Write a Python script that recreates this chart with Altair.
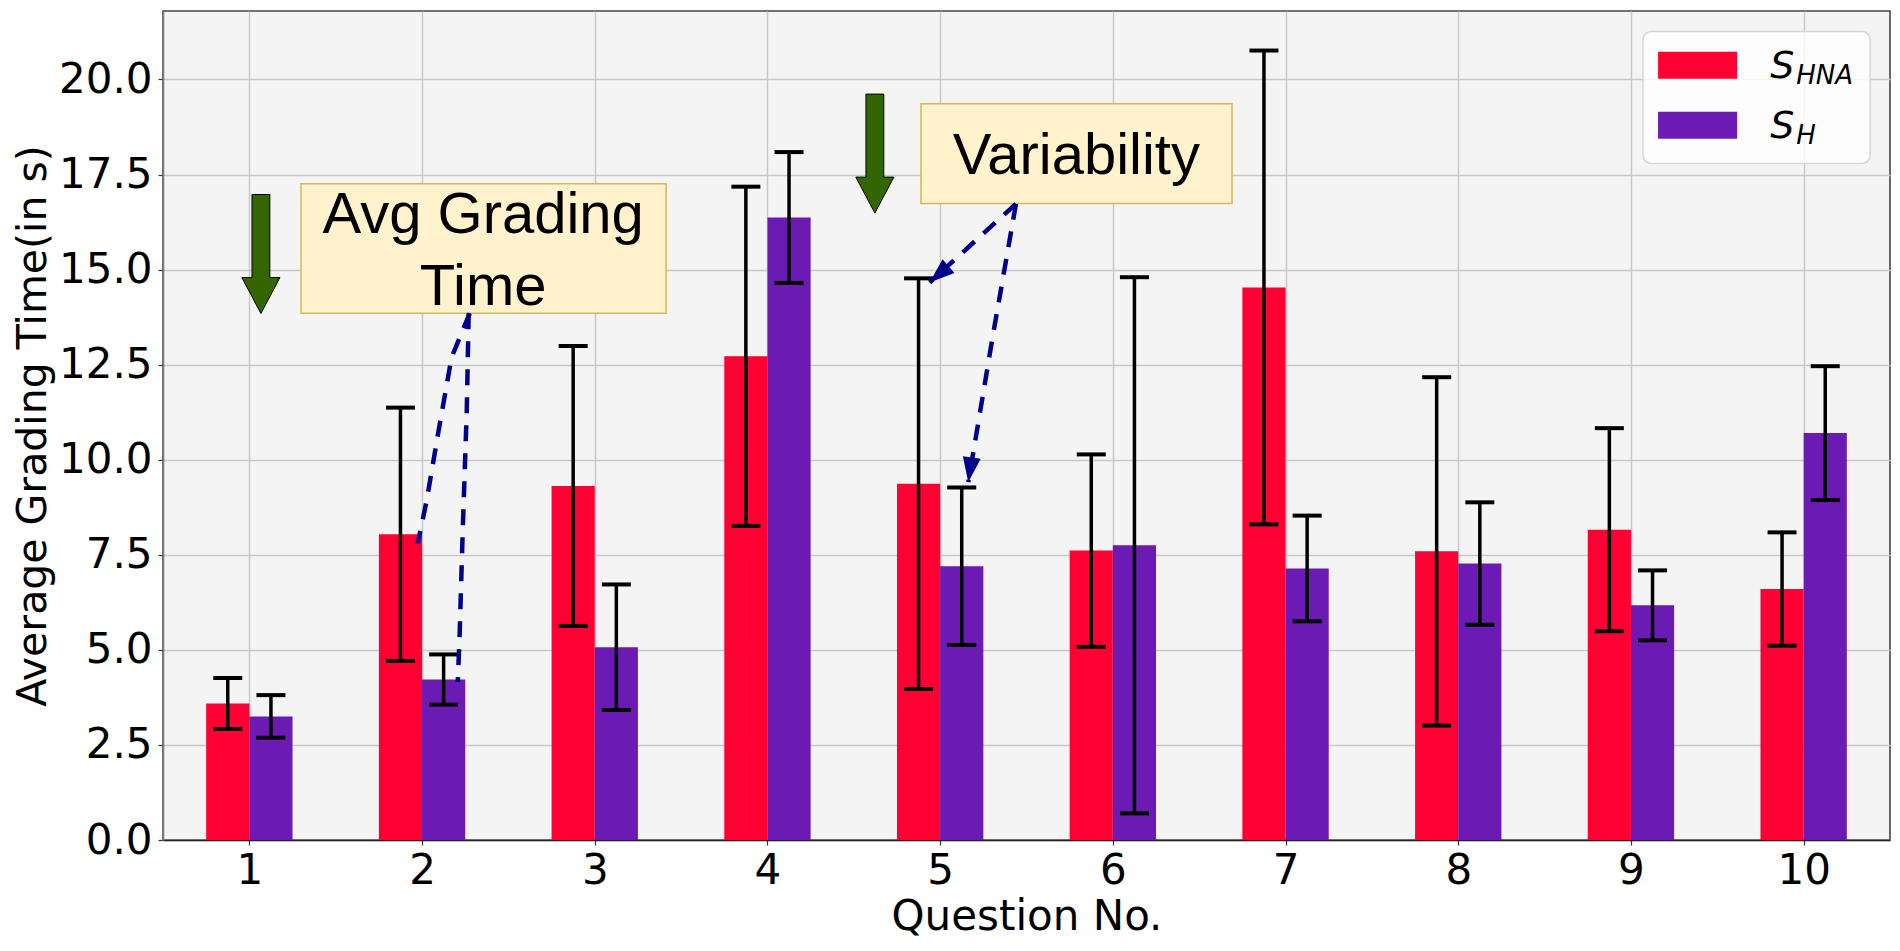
import altair as alt
import pandas as pd

# ---------------- data ----------------
questions = [1, 2, 3, 4, 5, 6, 7, 8, 9, 10]
hna_mean = [3.59, 8.04, 9.31, 12.72, 9.37, 7.61, 14.53, 7.59, 8.16, 6.60]
hna_std = [0.67, 3.33, 3.68, 4.46, 5.40, 2.53, 6.23, 4.58, 2.67, 1.49]
h_mean = [3.25, 4.22, 5.07, 16.37, 7.20, 7.75, 7.14, 7.27, 6.17, 10.70]
h_std = [0.56, 0.66, 1.65, 1.72, 2.07, 7.05, 1.39, 1.61, 0.92, 1.76]
series_names = ["S_HNA", "S_H"]
series_colors = ["#FF0033", "#6C1AB4"]
y_ticks = [0, 2.5, 5, 7.5, 10, 12.5, 15, 17.5, 20]

# annotation content (data coordinates)
note_labels = ["Avg Grading", "Time", "Variability"]
note_q = [2.354, 2.354, 5.789]
note_v = [15.95, 14.08, 17.52]
box_q0 = [1.299, 4.889]
box_q1 = [3.413, 6.690]
box_v0 = [13.85, 16.74]
box_v1 = [17.26, 19.36]
green_q = [1.067, 4.622]
green_v = [15.41, 18.05]
# dashed pointer lines
line_id = ["a1"] * 5 + ["a2"] * 5 + ["b1"] * 2 + ["b2"] * 3
line_q = [2.276, 2.171, 2.096, 2.027, 1.975,
          2.270, 2.259, 2.235, 2.218, 2.207,
          5.439, 4.939,
          5.439, 5.307, 5.163]
line_v = [13.85, 12.69, 10.77, 8.93, 7.80,
          13.85, 11.30, 8.07, 5.44, 4.15,
          16.73, 14.66,
          16.73, 13.31, 9.41]
head_q = [4.939, 5.163]
head_v = [14.66, 9.41]
head_angle = [229, 188]
# legend (data coordinates)
legend_box = {"q0": 9.07, "q1": 10.385, "v0": 17.79, "v1": 21.26}
legend_sw_q0 = [9.157, 9.157]
legend_sw_q1 = [9.615, 9.615]
legend_sw_v0 = [20.02, 18.44]
legend_sw_v1 = [20.73, 19.15]
legend_main = ["S", "S"]
legend_sub = ["HNA", "H"]
legend_main_q = [9.806, 9.806]
legend_main_v = [20.05, 18.47]
legend_sub_q = [9.957, 9.957]
legend_sub_v = [19.89, 18.31]

# ---------------- layout constants ----------------
BAR_W = 0.25
offsets = {"S_HNA": -0.25, "S_H": 0.0}

rows = []
for name, means, stds in [("S_HNA", hna_mean, hna_std), ("S_H", h_mean, h_std)]:
    for q, m, s in zip(questions, means, stds):
        x0 = q + offsets[name]
        rows.append({"q": q, "series": name, "mean": m, "std": s,
                     "x0": x0, "x1": x0 + BAR_W, "xc": x0 + BAR_W / 2,
                     "lo": m - s, "hi": m + s, "zero": 0.0})
df = pd.DataFrame(rows)

xs = alt.Scale(domain=[0.5, 10.5], nice=False, zero=False)
ys = alt.Scale(domain=[0, 21.8], nice=False, zero=False)

FONT = "DejaVu Sans"
x_axis = alt.Axis(values=questions, format="d", title="Question No.",
                  labelFont=FONT, labelFontSize=42, labelColor="black",
                  labelPadding=5, titleFont=FONT, titleFontSize=42,
                  titleFontWeight="normal", titleColor="black", titlePadding=5,
                  tickSize=5, tickColor="#333333", tickWidth=1.2,
                  grid=True, gridColor="#c8c8c8", gridWidth=1.5,
                  domainColor="#222222", domainWidth=1.6)
y_axis = alt.Axis(values=y_ticks, format=".1f", title="Average Grading Time(in s)",
                  labelFont=FONT, labelFontSize=42, labelColor="black",
                  labelPadding=6, titleFont=FONT, titleFontSize=41,
                  titleFontWeight="normal", titleColor="black", titlePadding=4,
                  tickSize=5, tickColor="#333333", tickWidth=1.2,
                  grid=True, gridColor="#c8c8c8", gridWidth=1.5,
                  domainColor="#808080", domainWidth=1.6)


def X(field):
    return alt.X(field, scale=xs, axis=x_axis)


def Y(field):
    return alt.Y(field, scale=ys, axis=y_axis)


color_enc = alt.Color("series:N", scale=alt.Scale(domain=series_names, range=series_colors), legend=None)

bars = alt.Chart(df).mark_rect().encode(
    x=X("x0:Q"), x2="x1:Q", y=Y("mean:Q"), y2="zero:Q", color=color_enc,
)

err_lines = alt.Chart(df).mark_rule(color="black", strokeWidth=3.5).encode(
    x=X("xc:Q"), y=Y("lo:Q"), y2="hi:Q",
)

caps = alt.Chart(df).transform_fold(["lo", "hi"], as_=["end", "val"]).mark_tick(
    orient="horizontal", color="black", size=29, thickness=4, opacity=1
).encode(x=X("xc:Q"), y=Y("val:Q"))

boxes_df = pd.DataFrame({"q0": box_q0, "q1": box_q1, "v0": box_v0, "v1": box_v1})
boxes = alt.Chart(boxes_df).mark_rect(fill="#FFF2CC", stroke="#D6B656", strokeWidth=1.5).encode(
    x=X("q0:Q"), x2="q1:Q", y=Y("v0:Q"), y2="v1:Q",
)

notes_df = pd.DataFrame({"q": note_q, "v": note_v, "t": note_labels})
notes = alt.Chart(notes_df).mark_text(
    font="Liberation Sans", fontSize=58, color="black", align="center", baseline="alphabetic"
).encode(x=X("q:Q"), y=Y("v:Q"), text="t:N")

ARROW_PATH = "M-0.15,-1 L0.15,-1 L0.15,0.395 L0.32,0.395 L0,1 L-0.32,0.395 L-0.15,0.395 Z"
green_df = pd.DataFrame({"q": green_q, "v": green_v})
green = alt.Chart(green_df).mark_point(
    shape=ARROW_PATH, size=14161, filled=True, color="#336600",
    stroke="black", strokeWidth=1, opacity=1
).encode(x=X("q:Q"), y=Y("v:Q"))

lines_df = pd.DataFrame({"id": line_id, "q": line_q, "v": line_v,
                         "o": list(range(len(line_id)))})
pointer_lines = alt.Chart(lines_df).mark_line(
    color="#00008B", strokeWidth=4.5, strokeDash=[16, 12]
).encode(x=X("q:Q"), y=Y("v:Q"), detail="id:N", order="o:Q")

heads_df = pd.DataFrame({"q": head_q, "v": head_v, "a": head_angle})
heads = alt.Chart(heads_df).mark_point(
    shape="M0,0 L0.36,1 L-0.36,1 Z", size=2500, filled=True,
    color="#00008B", opacity=1
).encode(x=X("q:Q"), y=Y("v:Q"), angle=alt.Angle("a:Q", scale=None))

lbox_df = pd.DataFrame([legend_box])
lbox = alt.Chart(lbox_df).mark_rect(
    fill="white", fillOpacity=0.8, stroke="#d6d6d6", strokeWidth=1.5, cornerRadius=8
).encode(x=X("q0:Q"), x2="q1:Q", y=Y("v0:Q"), y2="v1:Q")

lsw_df = pd.DataFrame({"q0": legend_sw_q0, "q1": legend_sw_q1, "v0": legend_sw_v0,
                       "v1": legend_sw_v1, "series": series_names})
lsw = alt.Chart(lsw_df).mark_rect().encode(
    x=X("q0:Q"), x2="q1:Q", y=Y("v0:Q"), y2="v1:Q", color=color_enc,
)

lmain_df = pd.DataFrame({"q": legend_main_q, "v": legend_main_v, "t": legend_main})
lmain = alt.Chart(lmain_df).mark_text(
    font=FONT, fontSize=38, fontStyle="italic", color="black", align="left", baseline="alphabetic"
).encode(x=X("q:Q"), y=Y("v:Q"), text="t:N")

lsub_df = pd.DataFrame({"q": legend_sub_q, "v": legend_sub_v, "t": legend_sub})
lsub = alt.Chart(lsub_df).mark_text(
    font=FONT, fontSize=26, fontStyle="italic", color="black", align="left", baseline="alphabetic"
).encode(x=X("q:Q"), y=Y("v:Q"), text="t:N")

chart = alt.layer(
    bars, err_lines, caps, boxes, notes, green, pointer_lines, heads,
    lbox, lsw, lmain, lsub
).properties(
    width=1727, height=829,
    padding={"left": 155, "top": 3, "right": 2, "bottom": 103},
    autosize=alt.AutoSizeParams(type="none"),
    background="white",
).configure_view(
    fill="#F4F4F4", stroke="#444444", strokeWidth=1.6
)

chart.save("out.html", embed_options={"renderer": "svg", "actions": False})
